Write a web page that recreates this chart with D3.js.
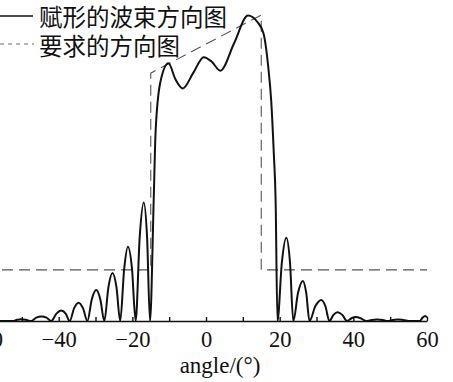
<!DOCTYPE html>
<meta charset="utf-8">
<style>
    body { margin: 0; background: #fff; }
    svg { display: block; background: #fff; }
    .pattern { fill: none; stroke: #111; stroke-width: 2px; stroke-linejoin: round; }
    .mask { fill: none; stroke: #555; stroke-width: 1.1px; stroke-dasharray: 11, 6; }
    .axis path, .axis line { stroke: #111; stroke-width: 1.4px; }
    .axis text { font-family: "Liberation Serif", serif; font-size: 22.5px; fill: #111; }
    .legend { font-family: "Noto Sans CJK SC", sans-serif; font-size: 23.5px; fill: #111; }
    .xlabel { font-family: "Liberation Serif", serif; font-size: 23px; fill: #111; }
</style>

<body>
    <script src="https://d3js.org/d3.v7.min.js"></script>
    <script>
        // shaped beam pattern (linear amplitude)
        var angles = [-60, -52.5,
            -51.3, -50.2, -48.9, -47.5,
            -46.1, -44.7, -43.3, -42,
            -40.6, -39.3, -38.1, -37,
            -35.8, -34.6, -33.4, -32.2,
            -31, -29.8, -28.7, -27.6,
            -26.5, -25.4, -24.3, -23.3,
            -22.2, -21.2, -20.1, -19.1,
            -18, -16.9, -16.0, -15.2,
            -14.2, -13.7, -12.4, -10.2, -8.3, -6.3, -3.5, -0.6, 1.5, 3.9, 7.6, 11.4, 13.9, 15.6, 16.9, 17.7, 18.4, 18.9, 19.4,
            20.6, 21.8, 22.8, 23.7,
            25, 26.3, 27.2, 28.1,
            29.7, 31.3, 32.4, 33.5,
            34.6, 35.7, 37, 38.3,
            39.5, 40.6, 42, 43.5,
            45, 46.5, 48, 49.3,
            50.7, 52, 53.5, 55.5,
            58, 58.8, 59.5, 60];
        var gains = [0, 0,
            0.004, 0.006, 0.004, 0,
            0.011, 0.015, 0.011, 0,
            0.024, 0.034, 0.024, 0,
            0.042, 0.060, 0.042, 0,
            0.071, 0.101, 0.071, 0,
            0.110, 0.157, 0.110, 0,
            0.172, 0.243, 0.172, 0,
            0.274, 0.387, 0.274, 0,
            0.395, 0.614, 0.78, 0.842, 0.79, 0.760, 0.81, 0.862, 0.848, 0.818, 0.907, 0.998, 0.978, 0.94, 0.83, 0.72, 0.55, 0.395, 0,
            0.192, 0.272, 0.192, 0,
            0.093, 0.131, 0.093, 0,
            0.049, 0.069, 0.049, 0,
            0.020, 0.029, 0.020, 0,
            0.009, 0.013, 0.009, 0,
            0.0035, 0.005, 0.0035, 0,
            0.0035, 0.005, 0.0035, 0,
            0, 0.011, 0.016, 0.012];

        // required (mask) pattern
        var maskAngles = [-60, -15, -15, 15, 15, 60];
        var maskGains = [0.167, 0.167, 0.81, 1.0, 0.167, 0.167];

        var tickValues = [-60, -50, -40, -30, -20, -10, 0, 10, 20, 30, 40, 50, 60];
        var legendLabels = ['赋形的波束方向图', '要求的方向图'];

        var width = 453,
            height = 382;
        var svg = d3.select('body').append('svg')
            .attr('width', width)
            .attr('height', height);

        var x = d3.scaleLinear().domain([-60, 60]).range([-15, 427]);
        var y = d3.scaleLinear().domain([0, 1]).range([321, 15]);

        var line = d3.line()
            .x(function (d) { return x(d[0]); })
            .y(function (d) { return y(d[1]); });

        var maskData = maskAngles.map(function (a, i) { return [a, maskGains[i]]; });
        svg.append('path')
            .attr('class', 'mask')
            .attr('d', line.curve(d3.curveLinear)(maskData));

        var patData = angles.map(function (a, i) { return [a, gains[i]]; });
        svg.append('path')
            .attr('class', 'pattern')
            .attr('d', line.curve(d3.curveMonotoneX)(patData));

        var xAxis = d3.axisBottom(x)
            .tickValues(tickValues)
            .tickSizeInner(-4)
            .tickSizeOuter(0)
            .tickPadding(10)
            .tickFormat(function (d) { return d % 20 === 0 ? d3.format('')(d) : ''; });

        svg.append('g')
            .attr('class', 'axis')
            .attr('transform', 'translate(0,' + y(0) + ')')
            .call(xAxis);

        svg.append('text')
            .attr('class', 'xlabel')
            .attr('x', 220)
            .attr('y', 373)
            .attr('text-anchor', 'middle')
            .text('angle/(°)');

        // legend
        var legend = svg.append('g');
        legend.append('line')
            .attr('x1', 0).attr('x2', 33)
            .attr('y1', 16).attr('y2', 16)
            .style('stroke', '#111').style('stroke-width', 1.6);
        legend.append('line')
            .attr('x1', 0).attr('x2', 34)
            .attr('y1', 44).attr('y2', 44)
            .style('stroke', '#777').style('stroke-width', 1.1)
            .style('stroke-dasharray', '4,4');
        legend.selectAll('.legend')
            .data(legendLabels)
            .enter().append('text')
            .attr('class', 'legend')
            .attr('x', 39)
            .attr('y', function (d, i) { return 16 + i * 28.5; })
            .attr('dominant-baseline', 'central')
            .text(function (d) { return d; });
    </script>
</body>
